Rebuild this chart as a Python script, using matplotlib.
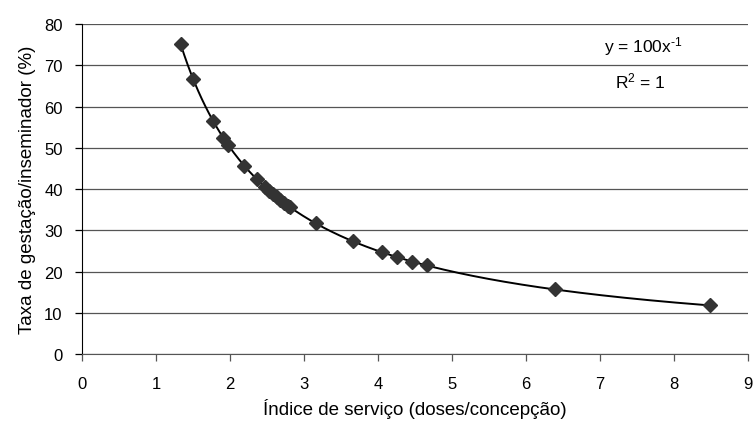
import numpy as np
import matplotlib.pyplot as plt

plt.rcParams['font.family'] = ['Liberation Sans', 'DejaVu Sans']
plt.rcParams['mathtext.fontset'] = 'custom'
plt.rcParams['mathtext.rm'] = 'Liberation Sans'
plt.rcParams['mathtext.it'] = 'Liberation Sans'

# service index (doses per conception) and matching pregnancy rate per insemination
indice_servico = [1.33, 1.50, 1.77, 1.91, 1.97, 2.19, 2.36, 2.47, 2.53, 2.58,
                  2.63, 2.68, 2.73, 2.78, 2.81, 3.16, 3.66, 4.05, 4.26, 4.46,
                  4.66, 6.39, 8.48]
taxa_gestacao = [100 / x for x in indice_servico]

x_ticks = list(range(0, 10))
y_ticks = list(range(0, 90, 10))

fig = plt.figure(figsize=(7.54, 4.27), dpi=100)
ax = fig.add_axes([0.109, 0.1686, 0.883, 0.7728])

# power trendline y = 100 x^-1 between first and last points
xs = np.linspace(min(indice_servico), max(indice_servico), 300)
ax.plot(xs, 100 * xs ** -1.0, color='black', lw=1.4, zorder=2)
ax.plot(indice_servico, taxa_gestacao, linestyle='None', marker='D',
        markersize=6.8, color='#333333', zorder=3)

ax.set_xlim(0, 9)
ax.set_ylim(0, 80)
ax.set_xticks(x_ticks)
ax.set_yticks(y_ticks)
ax.yaxis.grid(True, color='#555555', lw=0.9)
ax.set_axisbelow(True)
for s in ['top', 'right']:
    ax.spines[s].set_visible(False)
ax.spines['left'].set_color('black')
ax.spines['bottom'].set_color('#555555')
ax.tick_params(axis='both', direction='out', length=5, width=0.9,
               labelsize=12, colors='black')
ax.tick_params(axis='y', pad=9)
ax.tick_params(axis='x', color='#555555', pad=11)

ax.set_xlabel('Índice de serviço (doses/concepção)', fontsize=13.5, labelpad=5)
ax.set_ylabel('Taxa de gestação/inseminador (%)', fontsize=13.5, labelpad=6)

ax.text(7.59, 74.7, r'y = 100x$^{\text{-}1}$', ha='center', va='center', fontsize=12.5)
ax.text(7.55, 66.4, r'R$^{2}$ = 1', ha='center', va='center', fontsize=12.5)

fig.savefig('out.png', dpi=100)
